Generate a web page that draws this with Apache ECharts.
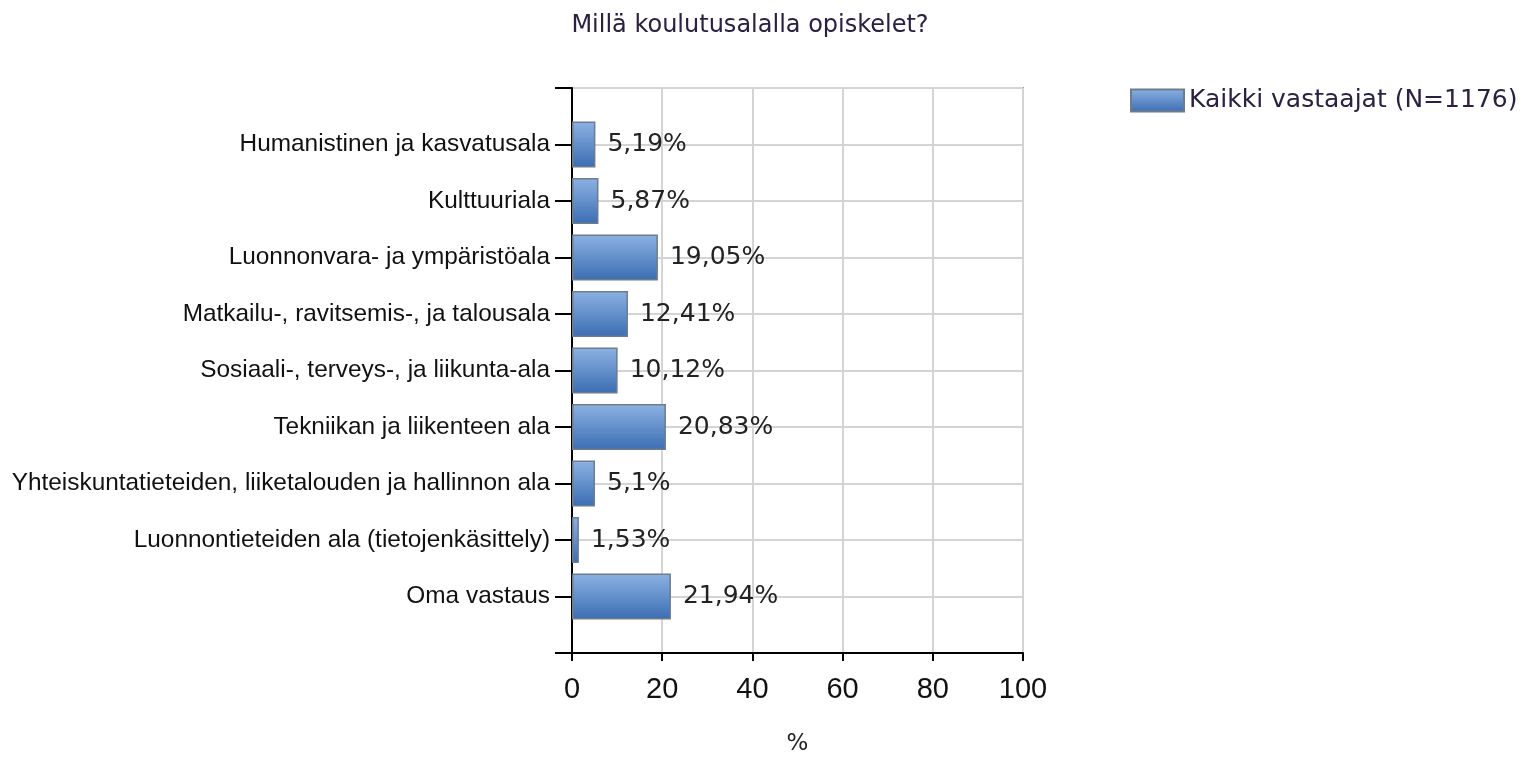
<!DOCTYPE html>
<html>
<head>
<meta charset="utf-8">
<script src="https://cdn.jsdelivr.net/npm/echarts@6/dist/echarts.min.js"></script>
<style>
html, body { margin: 0; padding: 0; background: #fff; }
#chart { width: 1530px; height: 757px; }
</style>
</head>
<body>
<div id="chart"></div>
<script>
var categories = [
    'Humanistinen ja kasvatusala',
    'Kulttuuriala',
    'Luonnonvara- ja ympäristöala',
    'Matkailu-, ravitsemis-, ja talousala',
    'Sosiaali-, terveys-, ja liikunta-ala',
    'Tekniikan ja liikenteen ala',
    'Yhteiskuntatieteiden, liiketalouden ja hallinnon ala',
    'Luonnontieteiden ala (tietojenkäsittely)',
    'Oma vastaus'
];
var values = [5.19, 5.87, 19.05, 12.41, 10.12, 20.83, 5.1, 1.53, 21.94];
var seriesName = 'Kaikki vastaajat (N=1176)';
var xTicks = [0, 20, 40, 60, 80, 100];

// empty slots at both ends give the padding above and below the bars
var yCats = [''].concat(categories).concat(['']);
var yData = ['-'].concat(values).concat(['-']);

var narrow = "'Liberation Sans Narrow', 'Arial Narrow', 'Liberation Sans', sans-serif";
var tahoma = "'DejaVu Sans', Tahoma, Verdana, sans-serif";

var dom = document.getElementById('chart');
var myChart = echarts.init(dom);
var option = {
    animation: false,
    title: {
        text: 'Millä koulutusalalla opiskelet?',
        left: 745,
        textAlign: 'center',
        top: 9,
        textStyle: { fontFamily: tahoma, fontSize: 24, fontWeight: 'normal', color: '#2a2040' }
    },
    legend: {
        left: 1125,
        top: 83,
        icon: 'rect',
        itemWidth: 53,
        itemHeight: 22,
        itemGap: 8,
        data: [seriesName],
        textStyle: { fontFamily: tahoma, fontSize: 25, color: '#2a2040' }
    },
    grid: {
        left: 572,
        right: 507,
        top: 88,
        bottom: 104,
        outerBoundsMode: 'none',
        show: true,
        borderColor: '#8a9bb0',
        borderWidth: 2
    },
    xAxis: {
        type: 'value',
        min: 0,
        max: 100,
        interval: 20,
        name: '%',
        nameLocation: 'middle',
        nameGap: 80,
        nameTextStyle: { fontFamily: tahoma, fontSize: 23, color: '#222' },
        axisLine: { show: true, lineStyle: { color: '#000', width: 2 } },
        axisTick: { show: true, length: 8, lineStyle: { color: '#000', width: 2 } },
        axisLabel: {
            margin: 22,
            fontFamily: narrow,
            fontSize: 29,
            color: '#111',
            formatter: function (v) { return xTicks.indexOf(v) >= 0 ? String(v) : ''; }
        },
        splitLine: { show: true, lineStyle: { color: '#d4d4d4', width: 2 } }
    },
    yAxis: {
        type: 'category',
        data: yCats,
        inverse: true,
        boundaryGap: false,
        axisLine: { show: true, lineStyle: { color: '#000', width: 2 } },
        axisTick: { show: true, length: 17, interval: 0, lineStyle: { color: '#000', width: 2 } },
        axisLabel: {
            interval: 0,
            margin: 22,
            fontFamily: narrow,
            fontSize: 24.4,
            color: '#111'
        },
        splitLine: { show: true, interval: 0, lineStyle: { color: '#d4d4d4', width: 2 } }
    },
    series: [{
        name: seriesName,
        type: 'bar',
        data: yData,
        barWidth: 46,
        itemStyle: {
            color: new echarts.graphic.LinearGradient(0, 0, 0, 1, [
                { offset: 0, color: '#8cb2e2' },
                { offset: 1, color: '#3b6db3' }
            ]),
            borderColor: '#6f7c8c',
            borderWidth: 1.5
        },
        label: {
            show: true,
            position: 'right',
            distance: 12,
            fontFamily: tahoma,
            fontSize: 25,
            color: '#222',
            formatter: function (p) { return String(p.value).replace('.', ',') + '%'; }
        }
    }]
};
myChart.setOption(option, true);
</script>
</body>
</html>
